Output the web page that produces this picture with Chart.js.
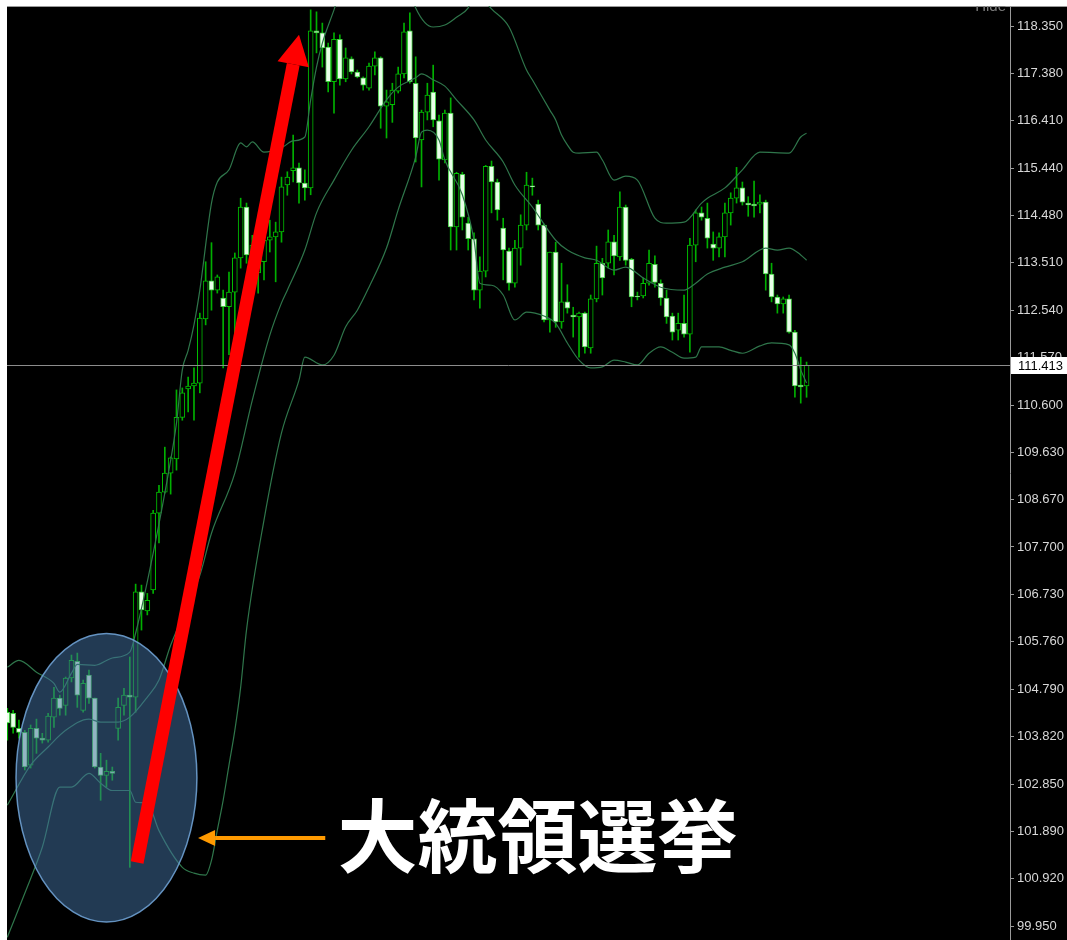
<!DOCTYPE html>
<html>
<head>
<meta charset="utf-8">
<script src="https://cdn.jsdelivr.net/npm/chart.js@4.4.0/dist/chart.umd.min.js"></script>
<style>
  body { margin: 0; background: #fff; }
  #wrap { position: relative; width: 1067px; height: 940px; overflow: hidden; }
  #note { position: absolute; color: #fff; font: 700 80px "Noto Sans CJK JP"; line-height: 1; white-space: nowrap; transform: translateY(-50%); }
</style>
</head>
<body>
<div id="wrap">
  <canvas id="chart" width="1067" height="940"></canvas>
  <div id="note">大統領選挙</div>
</div>
<script>
// daily candles (oldest first)
const opens = [104.32,104.30,103.99,103.91,103.24,103.99,103.79,103.75,104.22,104.61,
  104.46,105.02,105.36,104.36,105.08,104.61,103.20,103.03,103.11,103.99,
  104.46,104.67,104.63,106.78,106.39,106.82,108.39,108.82,109.21,109.50,
  110.35,110.93,110.99,111.05,112.36,113.14,112.95,112.79,112.61,112.91,
  113.61,114.65,113.46,113.30,113.53,113.97,114.04,114.14,115.10,115.39,
  115.45,115.14,115.04,118.25,118.21,117.92,117.21,118.08,117.27,117.68,
  117.41,117.29,117.08,117.53,117.70,116.71,116.74,117.02,117.37,118.25,
  117.18,116.02,116.59,117.00,116.41,115.61,116.57,114.24,115.32,114.32,
  114.00,112.95,113.34,115.48,115.16,114.22,113.75,113.09,113.81,114.28,
  115.08,114.71,114.28,112.34,113.73,112.30,112.71,112.44,112.40,112.48,
  111.77,112.77,113.50,113.50,113.94,113.63,114.65,113.58,112.83,112.83,
  113.09,113.48,113.09,112.79,112.42,112.13,112.27,112.05,113.87,114.53,
  114.42,113.89,113.81,114.04,114.53,114.83,115.04,114.73,114.71,114.71,
  114.75,113.28,112.81,112.67,112.77,112.09,111.01,110.99];
const highs = [104.40,104.36,104.16,103.95,104.06,104.18,103.89,104.30,104.83,104.67,
  105.04,105.49,105.53,104.98,105.18,104.61,103.48,103.34,103.20,104.61,
  104.81,105.45,106.94,106.92,106.75,108.45,108.96,109.74,109.54,110.91,
  110.95,111.17,111.36,112.48,113.53,113.92,113.26,112.95,113.32,113.71,
  114.83,114.73,114.07,114.38,114.42,114.38,114.34,115.26,115.37,116.12,
  115.55,115.41,118.68,118.64,118.41,118.00,118.21,118.17,117.90,117.72,
  117.45,117.31,117.59,117.82,117.72,117.04,117.18,117.51,118.41,118.62,
  117.72,116.63,117.18,117.55,116.53,116.63,116.88,115.36,115.36,114.44,
  114.12,113.63,115.50,115.59,115.22,114.42,113.81,113.97,114.49,115.36,
  115.24,114.79,114.30,113.73,113.93,113.50,113.06,112.60,112.50,112.50,
  112.85,113.85,113.60,114.18,114.07,114.96,114.69,113.60,112.91,113.20,
  113.77,113.65,113.16,112.95,112.48,112.48,112.85,114.01,114.59,114.65,
  114.73,114.14,114.12,114.73,114.94,115.46,115.16,114.86,115.18,114.90,
  114.79,113.50,112.85,112.81,112.85,112.13,111.58,111.48];
const lows = [103.75,103.89,103.79,103.14,103.18,103.48,103.69,103.71,104.01,104.26,
  104.26,104.94,104.42,104.32,104.50,103.18,102.52,102.79,102.93,103.75,
  104.26,101.15,104.32,106.00,106.31,106.75,107.78,108.80,108.78,109.27,
  110.29,110.46,110.29,110.85,112.24,112.54,112.89,111.36,111.63,112.01,
  113.40,113.50,113.16,112.89,113.16,113.73,113.12,113.93,114.89,115.16,
  114.73,114.79,114.90,117.80,117.51,117.00,116.57,117.14,117.21,117.37,
  117.29,117.04,117.04,117.35,116.26,116.06,116.38,116.98,117.29,117.18,
  115.57,115.06,116.43,116.29,115.20,115.55,113.77,113.77,114.18,113.77,
  112.75,112.58,113.22,114.53,114.38,113.16,112.95,113.01,113.46,114.18,
  114.89,114.18,112.30,112.09,112.19,112.17,112.48,111.99,111.58,111.66,
  111.66,112.71,112.85,113.40,113.26,113.56,113.46,112.61,112.75,112.79,
  113.05,113.01,112.64,112.27,111.93,111.93,111.99,111.68,113.53,114.38,
  113.81,113.56,113.63,113.63,114.28,114.73,114.69,114.46,114.44,114.53,
  112.95,112.71,112.48,112.48,112.07,110.76,110.64,110.76];
const closes = [104.10,104.01,103.91,103.20,103.99,103.79,103.75,104.24,104.61,104.40,
  105.02,105.38,104.67,104.91,104.61,103.20,103.03,103.11,103.07,104.42,
  104.67,104.63,106.78,106.41,106.61,108.39,108.82,109.21,109.52,110.35,
  110.85,110.99,111.05,112.38,113.14,112.95,113.22,112.61,112.91,113.61,
  114.65,113.67,113.87,114.11,113.97,114.04,114.14,115.06,115.26,115.45,
  115.14,115.04,118.25,118.21,117.90,117.21,118.08,117.27,117.70,117.41,
  117.31,117.14,117.53,117.70,116.71,116.80,117.04,117.37,118.23,117.21,
  116.06,116.59,116.94,116.43,115.63,116.57,114.24,115.34,114.44,114.00,
  112.95,113.34,115.48,115.16,114.59,113.77,113.09,113.81,114.28,115.10,
  115.06,114.28,112.34,113.73,112.30,112.71,112.58,112.40,112.48,111.79,
  112.77,113.50,113.20,113.94,113.65,114.65,113.56,112.81,112.81,113.09,
  113.50,113.11,112.79,112.40,112.09,112.27,112.05,113.87,114.53,114.44,
  114.01,113.81,114.04,114.53,114.83,115.04,114.75,114.69,114.67,114.75,
  113.28,112.81,112.67,112.77,112.09,110.99,110.97,111.413];

// bollinger bands, sampled at these candle numbers
const upperIdx = [0,2,5,8,9,11,12,15,18,21,22,25,28,29,30,31,32,33,35,36,38,40,41,42,44,47,49,51,52,53,54,56,58,61,64,67,69,70,73,75,77,79,80,81,82,83,86,89,90,93,94,95,96,97,98,101,102,104,106,108,111,113,116,119,120,123,126,129,134,136,137];
const upperVal = [105.24,105.38,105.14,104.91,104.73,105.12,105.30,105.28,105.43,105.55,105.94,107.57,109.47,110.23,111.32,111.72,112.24,112.95,114.73,115.16,115.41,115.96,115.88,115.98,115.77,115.86,116.00,116.08,116.84,117.51,118.00,118.68,119.39,119.70,119.80,119.50,119.09,118.72,118.33,118.37,118.53,118.72,118.98,118.98,118.84,118.70,118.33,117.45,117.25,116.63,116.43,116.12,115.92,115.77,115.75,115.77,115.61,115.20,115.28,115.20,114.42,114.32,114.34,114.73,114.83,115.04,115.41,115.77,115.75,116.08,116.16];
const middleIdx = [0,4,7,10,14,16,19,21,24,26,28,33,35,39,42,45,47,48,51,53,56,59,62,65,67,70,71,73,75,77,80,82,85,87,90,94,96,99,101,104,106,109,112,116,118,120,123,126,130,132,134,136,137];
const middleVal = [102.42,103.24,103.61,103.95,104.18,104.12,104.12,104.22,104.63,104.98,105.69,107.12,107.98,109.21,110.70,112.03,112.69,112.95,113.77,114.53,115.20,115.81,116.29,116.84,117.10,117.29,117.37,117.25,117.12,116.84,116.43,116.02,115.57,115.10,114.65,113.97,113.77,113.61,113.56,113.36,113.42,113.20,113.01,112.95,113.09,113.28,113.42,113.53,113.81,113.77,113.81,113.67,113.56];
const lowerIdx = [0,3,6,9,11,14,16,18,21,22,24,26,30,32,34,35,36,37,38,39,40,41,44,47,50,51,54,56,58,60,62,65,67,70,71,72,74,75,78,80,81,83,85,87,89,92,94,96,98,100,102,104,106,108,110,112,114,116,118,119,122,124,126,129,131,134,135,136,137];
const lowerVal = [99.72,100.62,101.56,102.79,102.79,103.07,102.87,102.72,102.72,102.48,102.46,101.90,101.15,101.03,100.99,101.29,101.91,102.52,103.24,103.95,104.83,106.00,108.25,110.03,111.11,111.58,111.42,111.62,112.20,112.54,113.01,113.81,114.59,115.67,116.18,116.22,116.02,115.61,114.90,113.97,113.09,113.05,112.85,112.34,112.50,112.42,112.27,111.87,111.52,111.36,111.38,111.52,111.48,111.42,111.66,111.79,111.68,111.56,111.58,111.79,111.79,111.72,111.66,111.81,111.87,111.83,111.66,111.32,111.05];

// price axis labels
const tickValues = [118.35,117.38,116.41,115.44,114.48,113.51,112.54,111.57,110.60,109.63,108.67,107.70,106.73,105.76,104.79,103.82,102.85,101.89,100.92,99.95];

// drawings on the chart, in candle number / price
const circleAt = { x: 17, y: 102.98, rx: 15.5, ry: 2.95 };
const redArrow = { x1: 22.25, y1: 101.25, x2: 50.0, y2: 118.17 };
const orangeArrow = { x1: 54.5, y1: 101.75, x2: 32.7, y2: 101.75 };
const noteAt = { x: 56.6, y: 101.9 };

const idx = opens.map((_, i) => i);
const wicks = idx.map(i => ({ x: i, y: [lows[i], highs[i]] }));
const bodies = idx.map(i => ({ x: i, y: [Math.min(opens[i], closes[i]), Math.max(opens[i], closes[i])] }));
const isUp = idx.map(i => closes[i] > opens[i]);
const band = (ix, vals) => ix.map((x, k) => ({ x: x, y: vals[k] }));

function arrow(ctx, x1, y1, x2, y2, w, headLen, headHalf, color) {
    const len = Math.hypot(x2 - x1, y2 - y1);
    const ux = (x2 - x1) / len, uy = (y2 - y1) / len;
    const bx = x2 - ux * headLen, by = y2 - uy * headLen;
    ctx.strokeStyle = color;
    ctx.fillStyle = color;
    ctx.lineWidth = w;
    ctx.lineCap = 'butt';
    ctx.beginPath();
    ctx.moveTo(x1, y1);
    ctx.lineTo(bx, by);
    ctx.stroke();
    ctx.beginPath();
    ctx.moveTo(x2, y2);
    ctx.lineTo(bx - uy * headHalf, by + ux * headHalf);
    ctx.lineTo(bx + uy * headHalf, by - ux * headHalf);
    ctx.closePath();
    ctx.fill();
}

const backdrop = {
    id: 'backdrop',
    beforeDraw(chart) {
        const { ctx, chartArea: a, width, height } = chart;
        ctx.save();
        ctx.fillStyle = '#fff';
        ctx.fillRect(0, 0, width, height);
        ctx.fillStyle = '#000';
        ctx.fillRect(a.left, a.top, width - a.left, height - a.top);
        ctx.fillStyle = '#9a9a9a';
        ctx.fillRect(a.left, a.top, width - a.left, 1);
        ctx.restore();
    }
};

const marks = {
    id: 'marks',
    afterDatasetsDraw(chart) {
        const { ctx, chartArea: a } = chart;
        const xs = chart.scales.x, ys = chart.scales.y;
        ctx.save();
        // last price line
        const ly = Math.round(ys.getPixelForValue(closes[closes.length - 1])) + 0.5;
        ctx.strokeStyle = '#8c8c8c';
        ctx.lineWidth = 1;
        ctx.beginPath();
        ctx.moveTo(a.left, ly);
        ctx.lineTo(a.right, ly);
        ctx.stroke();

        ctx.beginPath();
        ctx.rect(a.left, a.top, a.right - a.left, a.bottom - a.top);
        ctx.clip();

        // "Hide" button text at the top, cut by the frame
        ctx.fillStyle = '#7a7a7a';
        ctx.font = '15px "Liberation Sans"';
        ctx.textAlign = 'right';
        ctx.fillText('Hide', a.right - 4, a.top + 5);

        // circle round the election days
        const cx = xs.getPixelForValue(circleAt.x), cy = ys.getPixelForValue(circleAt.y);
        const rx = xs.getPixelForValue(circleAt.x + circleAt.rx) - cx;
        const ry = cy - ys.getPixelForValue(circleAt.y + circleAt.ry);
        ctx.beginPath();
        ctx.ellipse(cx, cy, rx, ry, 0, 0, Math.PI * 2);
        ctx.fillStyle = 'rgba(66,112,160,0.52)';
        ctx.fill();
        ctx.strokeStyle = 'rgba(110,160,210,0.9)';
        ctx.lineWidth = 1.5;
        ctx.stroke();

        arrow(ctx, xs.getPixelForValue(redArrow.x1), ys.getPixelForValue(redArrow.y1),
            xs.getPixelForValue(redArrow.x2), ys.getPixelForValue(redArrow.y2), 13, 30, 16, '#ff0000');
        arrow(ctx, xs.getPixelForValue(orangeArrow.x1), ys.getPixelForValue(orangeArrow.y1),
            xs.getPixelForValue(orangeArrow.x2), ys.getPixelForValue(orangeArrow.y2), 4, 17, 8, '#ff9a00');
        ctx.restore();
    },
    afterDraw(chart) {
        const { ctx, chartArea: a, width } = chart;
        const ys = chart.scales.y;
        const last = closes[closes.length - 1];
        const ly = Math.round(ys.getPixelForValue(last));
        ctx.save();
        ctx.fillStyle = '#fff';
        ctx.fillRect(a.right + 1, ly - 8, width - a.right - 1, 17);
        ctx.fillStyle = '#000';
        ctx.font = '13px "Liberation Sans"';
        ctx.textBaseline = 'middle';
        ctx.fillText(last.toFixed(3), a.right + 8, ly + 1);
        ctx.restore();
    }
};

const chart = new Chart(document.getElementById('chart'), {
    type: 'bar',
    data: {
        datasets: [
            { type: 'line', data: band(upperIdx, upperVal), borderColor: '#2f764b', borderWidth: 1.2, pointRadius: 0, cubicInterpolationMode: 'monotone', order: 0 },
            { type: 'line', data: band(middleIdx, middleVal), borderColor: '#2f764b', borderWidth: 1.2, pointRadius: 0, cubicInterpolationMode: 'monotone', order: 0 },
            { type: 'line', data: band(lowerIdx, lowerVal), borderColor: '#2f764b', borderWidth: 1.2, pointRadius: 0, cubicInterpolationMode: 'monotone', order: 0 },
            { data: bodies, barThickness: 5, grouped: false, borderWidth: 1, borderSkipped: false,
              backgroundColor: isUp.map(u => u ? '#000000' : '#eaffea'),
              borderColor: isUp.map(u => u ? '#00c000' : '#44cc44'), order: 1 },
            { data: wicks, barThickness: 1, grouped: false, backgroundColor: '#00b000', order: 2 }
        ]
    },
    options: {
        responsive: false,
        animation: false,
        devicePixelRatio: 1,
        layout: { padding: { left: 7, top: 6, right: 0, bottom: 0 } },
        plugins: { legend: { display: false }, tooltip: { enabled: false } },
        scales: {
            x: { type: 'linear', display: false, offset: false, min: -0.05, max: 171.87 },
            y: {
                position: 'right',
                min: 99.664, max: 118.759,
                afterFit(scale) {
                    scale.width = 57;
                    scale.paddingTop = 0;
                    scale.paddingBottom = 0;
                },
                afterBuildTicks(scale) { scale.ticks = tickValues.map(v => ({ value: v })); },
                border: { display: true, color: '#9a9a9a', width: 1 },
                grid: { drawOnChartArea: false, drawTicks: true, tickLength: 4, color: '#9a9a9a' },
                ticks: {
                    color: '#d8d8d8', padding: 3, autoSkip: false,
                    font: { family: '"Liberation Sans"', size: 13 },
                    callback: v => v.toFixed(3)
                }
            }
        }
    },
    plugins: [backdrop, marks]
});

// place the big label by the chart's own scales
const note = document.getElementById('note');
note.style.left = chart.scales.x.getPixelForValue(noteAt.x) + 'px';
note.style.top = chart.scales.y.getPixelForValue(noteAt.y) + 'px';
</script>
</body>
</html>
